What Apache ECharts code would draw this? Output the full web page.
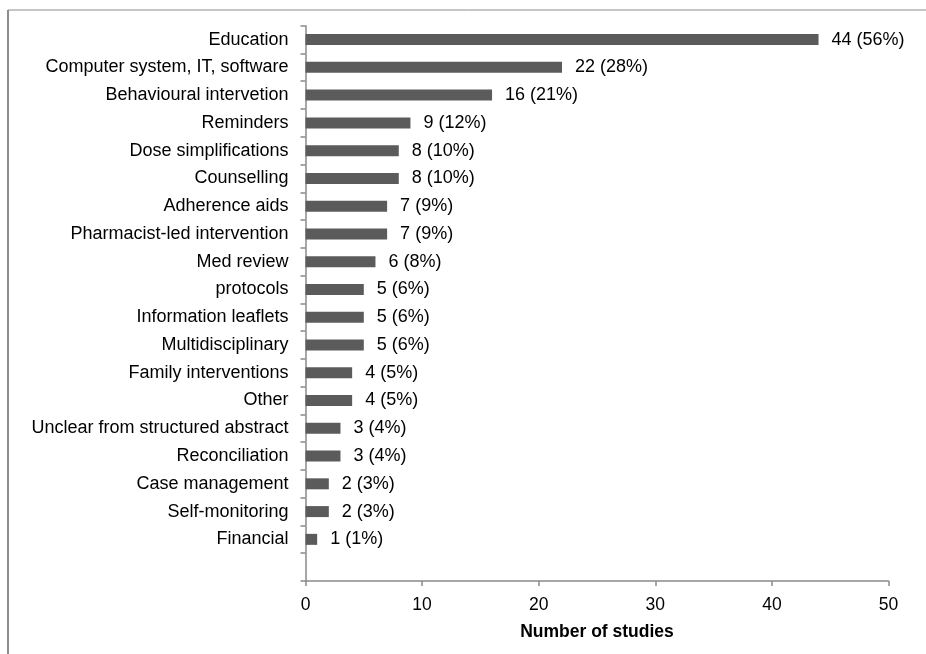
<!DOCTYPE html>
<html>
<head>
<meta charset="utf-8">
<script src="https://cdn.jsdelivr.net/npm/echarts@6/dist/echarts.min.js"></script>
<style>
  html, body { margin: 0; padding: 0; background: #ffffff; }
  #chart { width: 926px; height: 654px; }
</style>
</head>
<body>
<div id="chart"></div>
<script>
// Intervention types, top to bottom; the trailing blank keeps an empty slot above the x axis
const categories = [
  'Education',
  'Computer system, IT, software',
  'Behavioural intervetion',
  'Reminders',
  'Dose simplifications',
  'Counselling',
  'Adherence aids',
  'Pharmacist-led intervention',
  'Med review',
  'protocols',
  'Information leaflets',
  'Multidisciplinary',
  'Family interventions',
  'Other',
  'Unclear from structured abstract',
  'Reconciliation',
  'Case management',
  'Self-monitoring',
  'Financial',
  ''
];
const studies = [44, 22, 16, 9, 8, 8, 7, 7, 6, 5, 5, 5, 4, 4, 3, 3, 2, 2, 1, null];
const percents = ['56%', '28%', '21%', '12%', '10%', '10%', '9%', '9%', '8%', '6%', '6%', '6%', '5%', '5%', '4%', '4%', '3%', '3%', '1%', ''];
const xTicks = [0, 10, 20, 30, 40, 50];

const FONT = 'Liberation Sans, Arial, sans-serif';
const AXIS_GREY = '#8a8a8a';

const chart = echarts.init(document.getElementById('chart'), null, { renderer: 'canvas' });

chart.setOption({
  animation: false,
  backgroundColor: '#ffffff',
  textStyle: { fontFamily: FONT },
  graphic: [
    // outer chart-area frame (top and left edges visible)
    { type: 'line', shape: { x1: 8, y1: 10, x2: 930, y2: 10 }, style: { stroke: '#8c8c8c', lineWidth: 1 }, silent: true },
    { type: 'line', shape: { x1: 8, y1: 10, x2: 8, y2: 660 }, style: { stroke: '#8c8c8c', lineWidth: 2 }, silent: true }
  ],
  grid: { left: 305.5, right: 37.5, top: 25.7, bottom: 73, containLabel: false },
  xAxis: {
    type: 'value',
    min: xTicks[0],
    max: xTicks[xTicks.length - 1],
    interval: xTicks[1] - xTicks[0],
    name: 'Number of studies',
    nameLocation: 'middle',
    nameGap: 42,
    nameTextStyle: { fontFamily: FONT, fontSize: 17.5, fontWeight: 'bold', color: '#000000' },
    axisLine: { show: true, lineStyle: { color: AXIS_GREY, width: 1.5 } },
    axisTick: { show: true, length: 5, lineStyle: { color: AXIS_GREY, width: 1.5 } },
    axisLabel: { fontFamily: FONT, fontSize: 17.5, color: '#000000', margin: 15 },
    splitLine: { show: false }
  },
  yAxis: {
    type: 'category',
    inverse: true,
    data: categories,
    axisLine: { show: true, lineStyle: { color: AXIS_GREY, width: 1.5 } },
    axisTick: { show: true, length: 5, interval: 0, lineStyle: { color: AXIS_GREY, width: 1.5 } },
    axisLabel: { fontFamily: FONT, fontSize: 18, color: '#000000', margin: 17, interval: 0, padding: [3, 0, 0, 0] }
  },
  series: [{
    type: 'bar',
    data: studies,
    barWidth: 11,
    itemStyle: { color: '#5b5b5b' },
    label: {
      show: true,
      position: 'right',
      distance: 13,
      fontFamily: FONT,
      fontSize: 18,
      color: '#000000',
      padding: [3, 0, 0, 0],
      formatter: p => (p.value == null ? '' : p.value + ' (' + percents[p.dataIndex] + ')')
    }
  }]
});
</script>
</body>
</html>
